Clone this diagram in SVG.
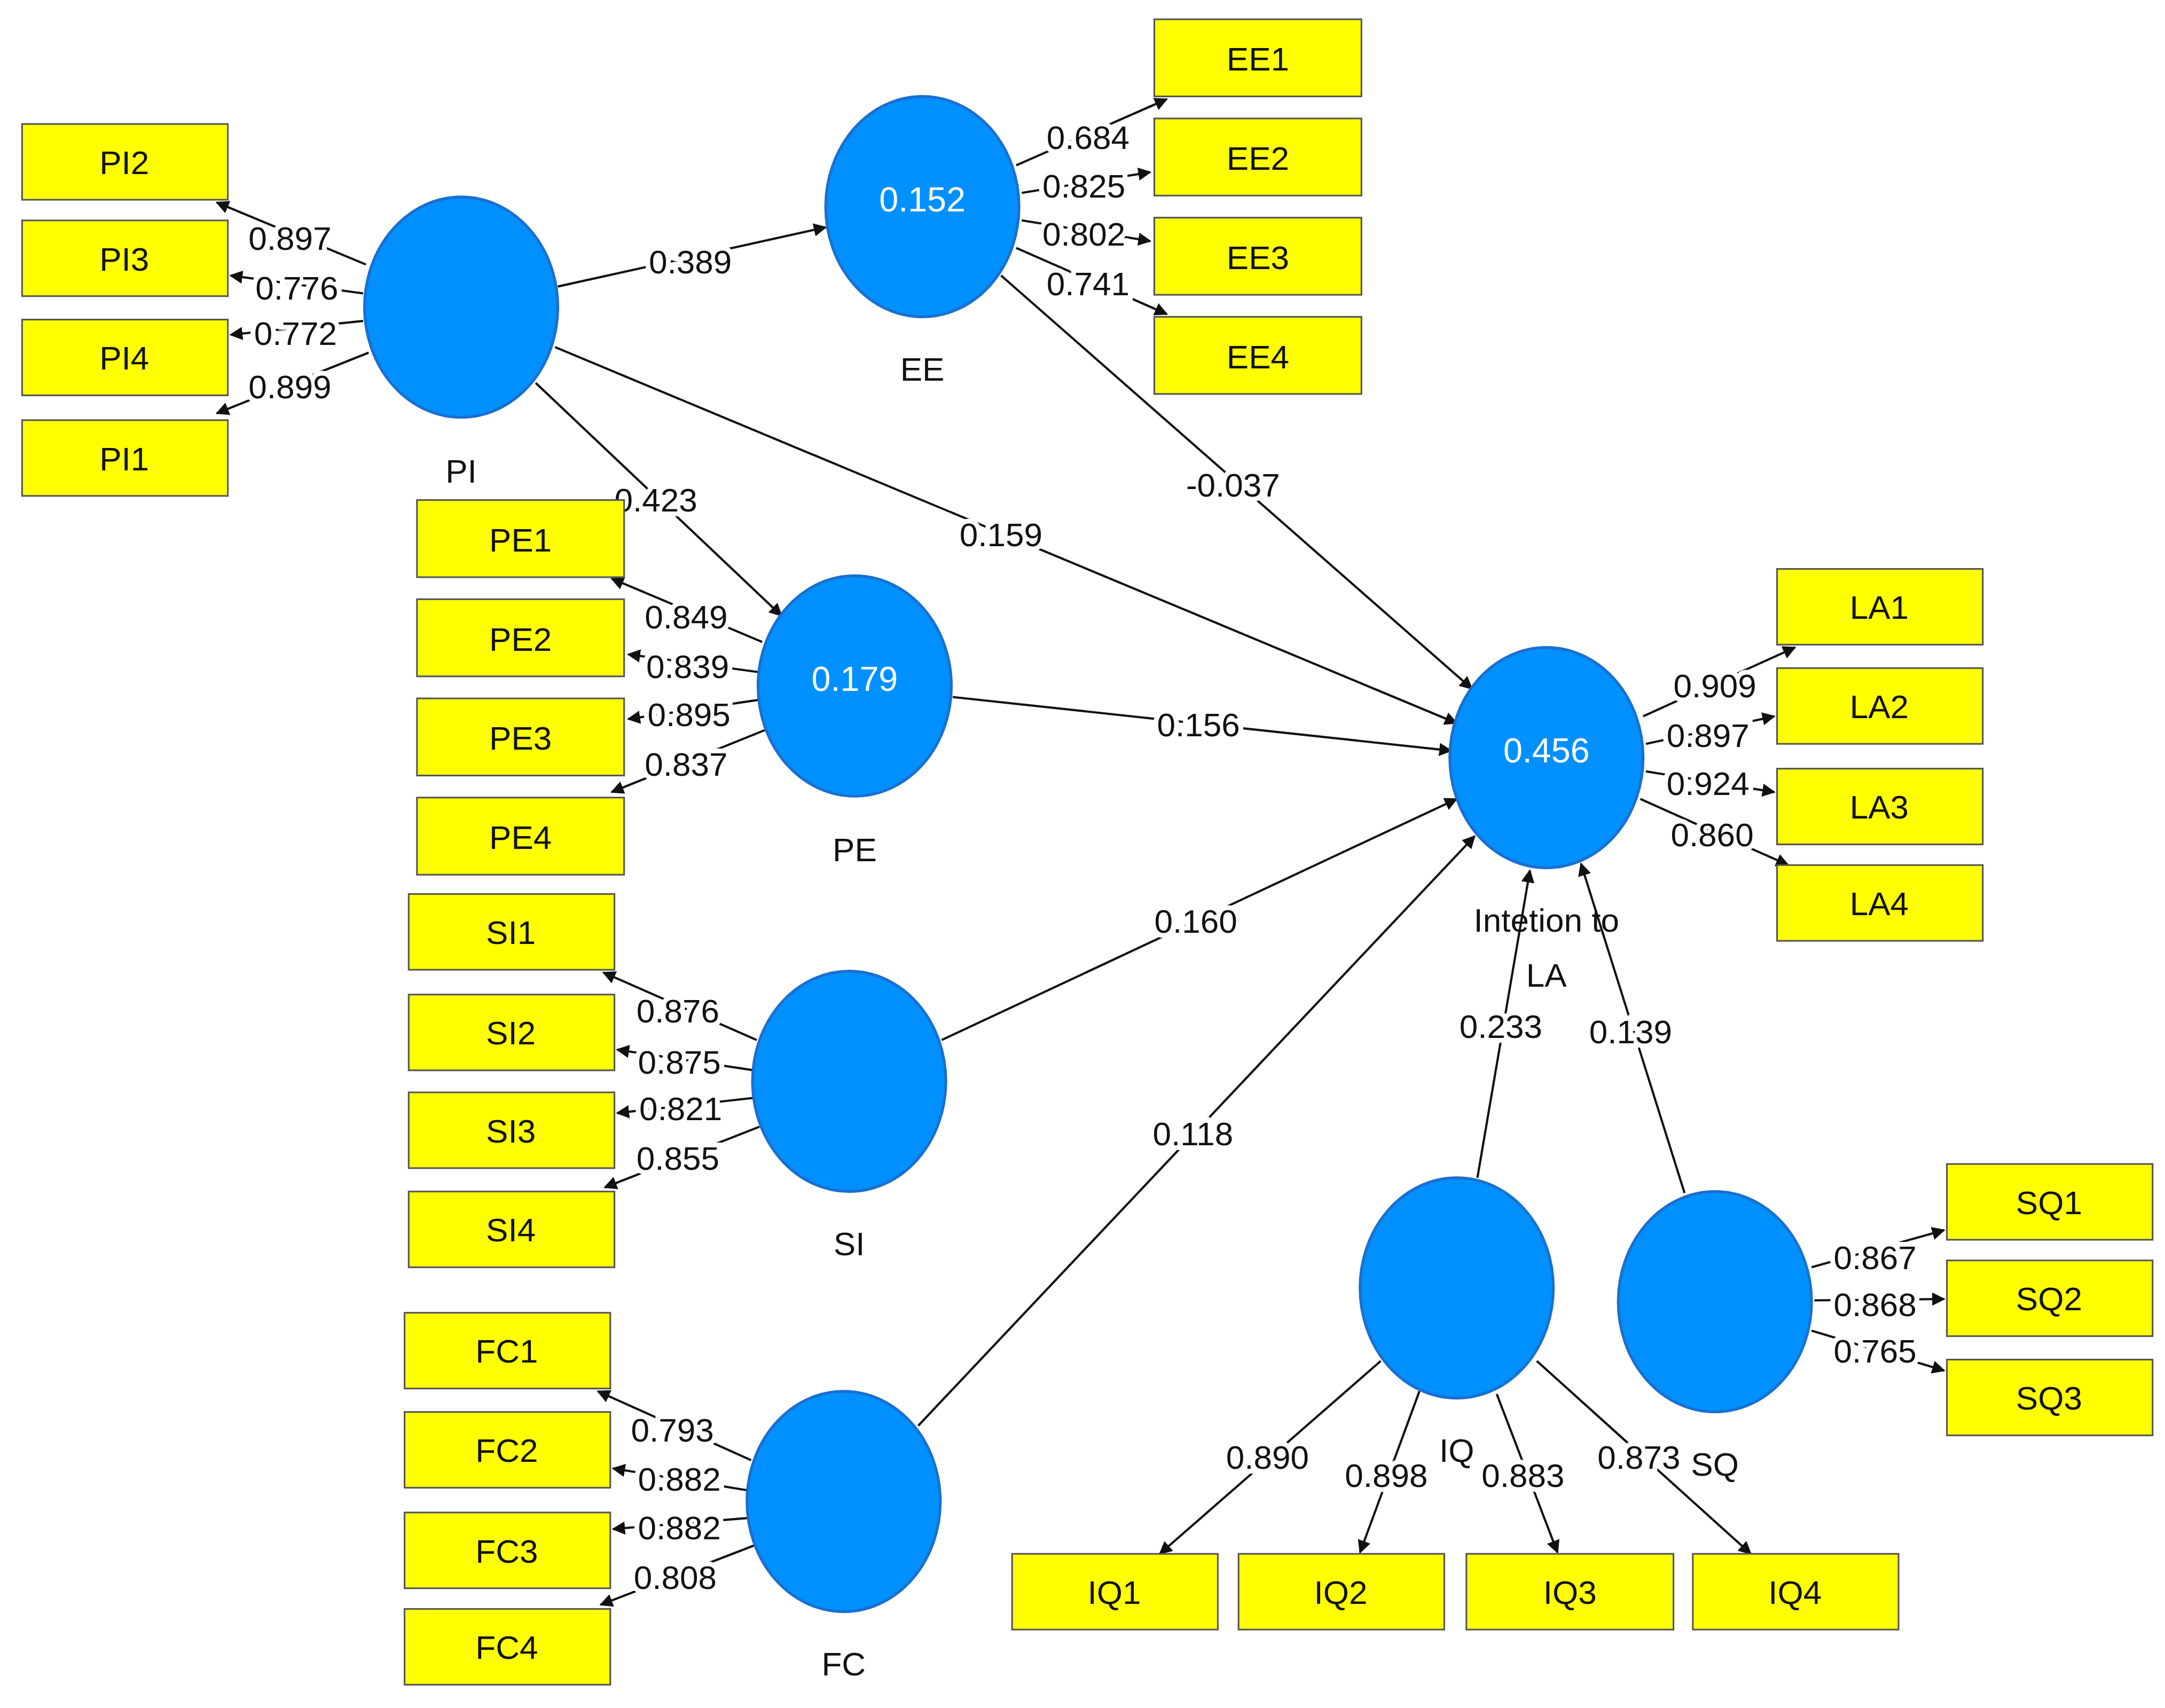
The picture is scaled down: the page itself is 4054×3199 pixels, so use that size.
<svg xmlns="http://www.w3.org/2000/svg" width="4054" height="3199" viewBox="0 0 4054 3199">
<style>
.b{fill:#ffff00;stroke:#555;stroke-width:1.2}
.c{fill:#0090ff;stroke:#1a6fd0;stroke-width:2}
.t{font-family:"Liberation Sans",Arial,sans-serif;font-size:24px;text-anchor:middle;dominant-baseline:central;fill:#111}
.w{fill:#fff;font-size:25px}
.l{font-family:"Liberation Sans",Arial,sans-serif;font-size:24px;text-anchor:middle;dominant-baseline:central;fill:#111;stroke:#fff;stroke-width:7;paint-order:stroke}
line{stroke:#111;stroke-width:1.6;marker-end:url(#a)}
</style>
<defs><marker id="a" viewBox="0 0 10 10" refX="9" refY="5" markerWidth="6" markerHeight="6" orient="auto"><path d="M0,0L10,5L0,10z" fill="#111"/></marker></defs>
<rect width="4054" height="3199" fill="#fff"/>
<g transform="scale(2.5855,2.58)">
<g id="connectors">
<line x1="404" y1="208" x2="598" y2="165"/>
<line x1="388" y1="278" x2="566" y2="447"/>
<line x1="402" y1="252" x2="1055" y2="525"/>
<line x1="725" y1="200" x2="1066" y2="500"/>
<line x1="690" y1="506" x2="1051" y2="545"/>
<line x1="682" y1="755" x2="1055" y2="580"/>
<line x1="665" y1="1035" x2="1068" y2="607"/>
<line x1="1070" y1="855" x2="1108" y2="632"/>
<line x1="1220" y1="866" x2="1145" y2="627"/>
<line x1="265" y1="192" x2="157" y2="147"/><line x1="263" y1="213" x2="167" y2="200"/><line x1="263" y1="233" x2="167" y2="243"/><line x1="267" y1="256" x2="157" y2="300"/>
<line x1="736" y1="120" x2="845" y2="72"/><line x1="740" y1="140" x2="833" y2="125"/><line x1="740" y1="160" x2="833" y2="175"/><line x1="736" y1="180" x2="845" y2="228"/>
<line x1="552" y1="466" x2="443" y2="420"/><line x1="550" y1="488" x2="455" y2="475"/><line x1="550" y1="508" x2="455" y2="522"/><line x1="554" y1="530" x2="443" y2="575"/>
<line x1="548" y1="755" x2="437" y2="706"/><line x1="546" y1="777" x2="447" y2="762"/><line x1="546" y1="797" x2="447" y2="808"/><line x1="550" y1="818" x2="438" y2="862"/>
<line x1="544" y1="1060" x2="433" y2="1010"/><line x1="542" y1="1082" x2="444" y2="1066"/><line x1="542" y1="1102" x2="444" y2="1110"/><line x1="546" y1="1122" x2="435" y2="1165"/>
<line x1="1190" y1="520" x2="1300" y2="470"/><line x1="1192" y1="540" x2="1285" y2="520"/><line x1="1192" y1="560" x2="1285" y2="575"/><line x1="1188" y1="580" x2="1295" y2="628"/>
<line x1="1000" y1="988" x2="840" y2="1128"/><line x1="1028" y1="1010" x2="985" y2="1127"/><line x1="1084" y1="1012" x2="1128" y2="1127"/><line x1="1113" y1="988" x2="1268" y2="1128"/>
<line x1="1312" y1="920" x2="1408" y2="893"/><line x1="1314" y1="944" x2="1408" y2="943"/><line x1="1312" y1="966" x2="1408" y2="995"/>
<text class="l" x="500" y="190">0.389</text><text class="l" x="475" y="363">0.423</text><text class="l" x="725" y="388">0.159</text><text class="l" x="893" y="352">-0.037</text><text class="l" x="868" y="526">0.156</text><text class="l" x="866" y="669">0.160</text><text class="l" x="864" y="823">0.118</text><text class="l" x="1087" y="745">0.233</text><text class="l" x="1181" y="749">0.139</text>
<text class="l" x="210" y="173">0.897</text><text class="l" x="215" y="209">0.776</text><text class="l" x="214" y="242">0.772</text><text class="l" x="210" y="281">0.899</text>
<text class="l" x="788" y="100">0.684</text><text class="l" x="785" y="135">0.825</text><text class="l" x="785" y="170">0.802</text><text class="l" x="788" y="206">0.741</text>
<text class="l" x="497" y="448">0.849</text><text class="l" x="498" y="484">0.839</text><text class="l" x="499" y="519">0.895</text><text class="l" x="497" y="555">0.837</text>
<text class="l" x="491" y="734">0.876</text><text class="l" x="492" y="771">0.875</text><text class="l" x="493" y="805">0.821</text><text class="l" x="491" y="841">0.855</text>
<text class="l" x="487" y="1038">0.793</text><text class="l" x="492" y="1074">0.882</text><text class="l" x="492" y="1109">0.882</text><text class="l" x="489" y="1145">0.808</text>
<text class="l" x="1242" y="498">0.909</text><text class="l" x="1237" y="534">0.897</text><text class="l" x="1237" y="569">0.924</text><text class="l" x="1240" y="606">0.860</text>
<text class="l" x="918" y="1058">0.890</text><text class="l" x="1004" y="1071">0.898</text><text class="l" x="1103" y="1071">0.883</text><text class="l" x="1187" y="1058">0.873</text>
<text class="l" x="1358" y="913">0.867</text><text class="l" x="1358" y="947">0.868</text><text class="l" x="1358" y="981">0.765</text>
</g>
<g id="PI"><ellipse class="c" cx="334" cy="223" rx="70" ry="80"/><text class="t" x="334" y="342">PI</text></g>
<g id="EE"><ellipse class="c" cx="668" cy="150" rx="70" ry="80"/><text class="t w" x="668" y="145">0.152</text><text class="t" x="668" y="268">EE</text></g>
<g id="PE"><ellipse class="c" cx="619" cy="498" rx="70" ry="80"/><text class="t w" x="619" y="493">0.179</text><text class="t" x="619" y="617">PE</text></g>
<g id="SI"><ellipse class="c" cx="615" cy="785" rx="70" ry="80"/><text class="t" x="615" y="903">SI</text></g>
<g id="FC"><ellipse class="c" cx="611" cy="1090" rx="70" ry="80"/><text class="t" x="611" y="1208">FC</text></g>
<g id="LA"><ellipse class="c" cx="1120" cy="550" rx="70" ry="80"/><text class="t w" x="1120" y="545">0.456</text><text class="t" x="1120" y="668">Intetion to</text><text class="t" x="1120" y="708">LA</text></g>
<g id="IQ"><ellipse class="c" cx="1055" cy="935" rx="70" ry="80"/><text class="t" x="1055" y="1053">IQ</text></g>
<g id="SQ"><ellipse class="c" cx="1242" cy="945" rx="70" ry="80"/><text class="t" x="1242" y="1063">SQ</text></g>
<g id="PI2"><rect class="b" x="16" y="90" width="149" height="55"/><text class="t" x="90" y="118">PI2</text></g>
<g id="PI3"><rect class="b" x="16" y="160" width="149" height="55"/><text class="t" x="90" y="188">PI3</text></g>
<g id="PI4"><rect class="b" x="16" y="232" width="149" height="55"/><text class="t" x="90" y="260">PI4</text></g>
<g id="PI1"><rect class="b" x="16" y="305" width="149" height="55"/><text class="t" x="90" y="333">PI1</text></g>
<g id="EE1"><rect class="b" x="836" y="14" width="150" height="56"/><text class="t" x="911" y="43">EE1</text></g>
<g id="EE2"><rect class="b" x="836" y="86" width="150" height="56"/><text class="t" x="911" y="115">EE2</text></g>
<g id="EE3"><rect class="b" x="836" y="158" width="150" height="56"/><text class="t" x="911" y="187">EE3</text></g>
<g id="EE4"><rect class="b" x="836" y="230" width="150" height="56"/><text class="t" x="911" y="259">EE4</text></g>
<g id="PE1"><rect class="b" x="302" y="363" width="150" height="56"/><text class="t" x="377" y="392">PE1</text></g>
<g id="PE2"><rect class="b" x="302" y="435" width="150" height="56"/><text class="t" x="377" y="464">PE2</text></g>
<g id="PE3"><rect class="b" x="302" y="507" width="150" height="56"/><text class="t" x="377" y="536">PE3</text></g>
<g id="PE4"><rect class="b" x="302" y="579" width="150" height="56"/><text class="t" x="377" y="608">PE4</text></g>
<g id="SI1"><rect class="b" x="296" y="649" width="149" height="55"/><text class="t" x="370" y="677">SI1</text></g>
<g id="SI2"><rect class="b" x="296" y="722" width="149" height="55"/><text class="t" x="370" y="750">SI2</text></g>
<g id="SI3"><rect class="b" x="296" y="793" width="149" height="55"/><text class="t" x="370" y="821">SI3</text></g>
<g id="SI4"><rect class="b" x="296" y="865" width="149" height="55"/><text class="t" x="370" y="893">SI4</text></g>
<g id="FC1"><rect class="b" x="293" y="953" width="149" height="55"/><text class="t" x="367" y="981">FC1</text></g>
<g id="FC2"><rect class="b" x="293" y="1025" width="149" height="55"/><text class="t" x="367" y="1053">FC2</text></g>
<g id="FC3"><rect class="b" x="293" y="1098" width="149" height="55"/><text class="t" x="367" y="1126">FC3</text></g>
<g id="FC4"><rect class="b" x="293" y="1168" width="149" height="55"/><text class="t" x="367" y="1196">FC4</text></g>
<g id="LA1"><rect class="b" x="1287" y="413" width="149" height="55"/><text class="t" x="1361" y="441">LA1</text></g>
<g id="LA2"><rect class="b" x="1287" y="485" width="149" height="55"/><text class="t" x="1361" y="513">LA2</text></g>
<g id="LA3"><rect class="b" x="1287" y="558" width="149" height="55"/><text class="t" x="1361" y="586">LA3</text></g>
<g id="LA4"><rect class="b" x="1287" y="628" width="149" height="55"/><text class="t" x="1361" y="656">LA4</text></g>
<g id="SQ1"><rect class="b" x="1410" y="845" width="149" height="55"/><text class="t" x="1484" y="873">SQ1</text></g>
<g id="SQ2"><rect class="b" x="1410" y="915" width="149" height="55"/><text class="t" x="1484" y="943">SQ2</text></g>
<g id="SQ3"><rect class="b" x="1410" y="987" width="149" height="55"/><text class="t" x="1484" y="1015">SQ3</text></g>
<g id="IQ1"><rect class="b" x="733" y="1128" width="149" height="55"/><text class="t" x="807" y="1156">IQ1</text></g>
<g id="IQ2"><rect class="b" x="897" y="1128" width="149" height="55"/><text class="t" x="971" y="1156">IQ2</text></g>
<g id="IQ3"><rect class="b" x="1062" y="1128" width="150" height="55"/><text class="t" x="1137" y="1156">IQ3</text></g>
<g id="IQ4"><rect class="b" x="1226" y="1128" width="149" height="55"/><text class="t" x="1300" y="1156">IQ4</text></g>
</g>
</svg>
